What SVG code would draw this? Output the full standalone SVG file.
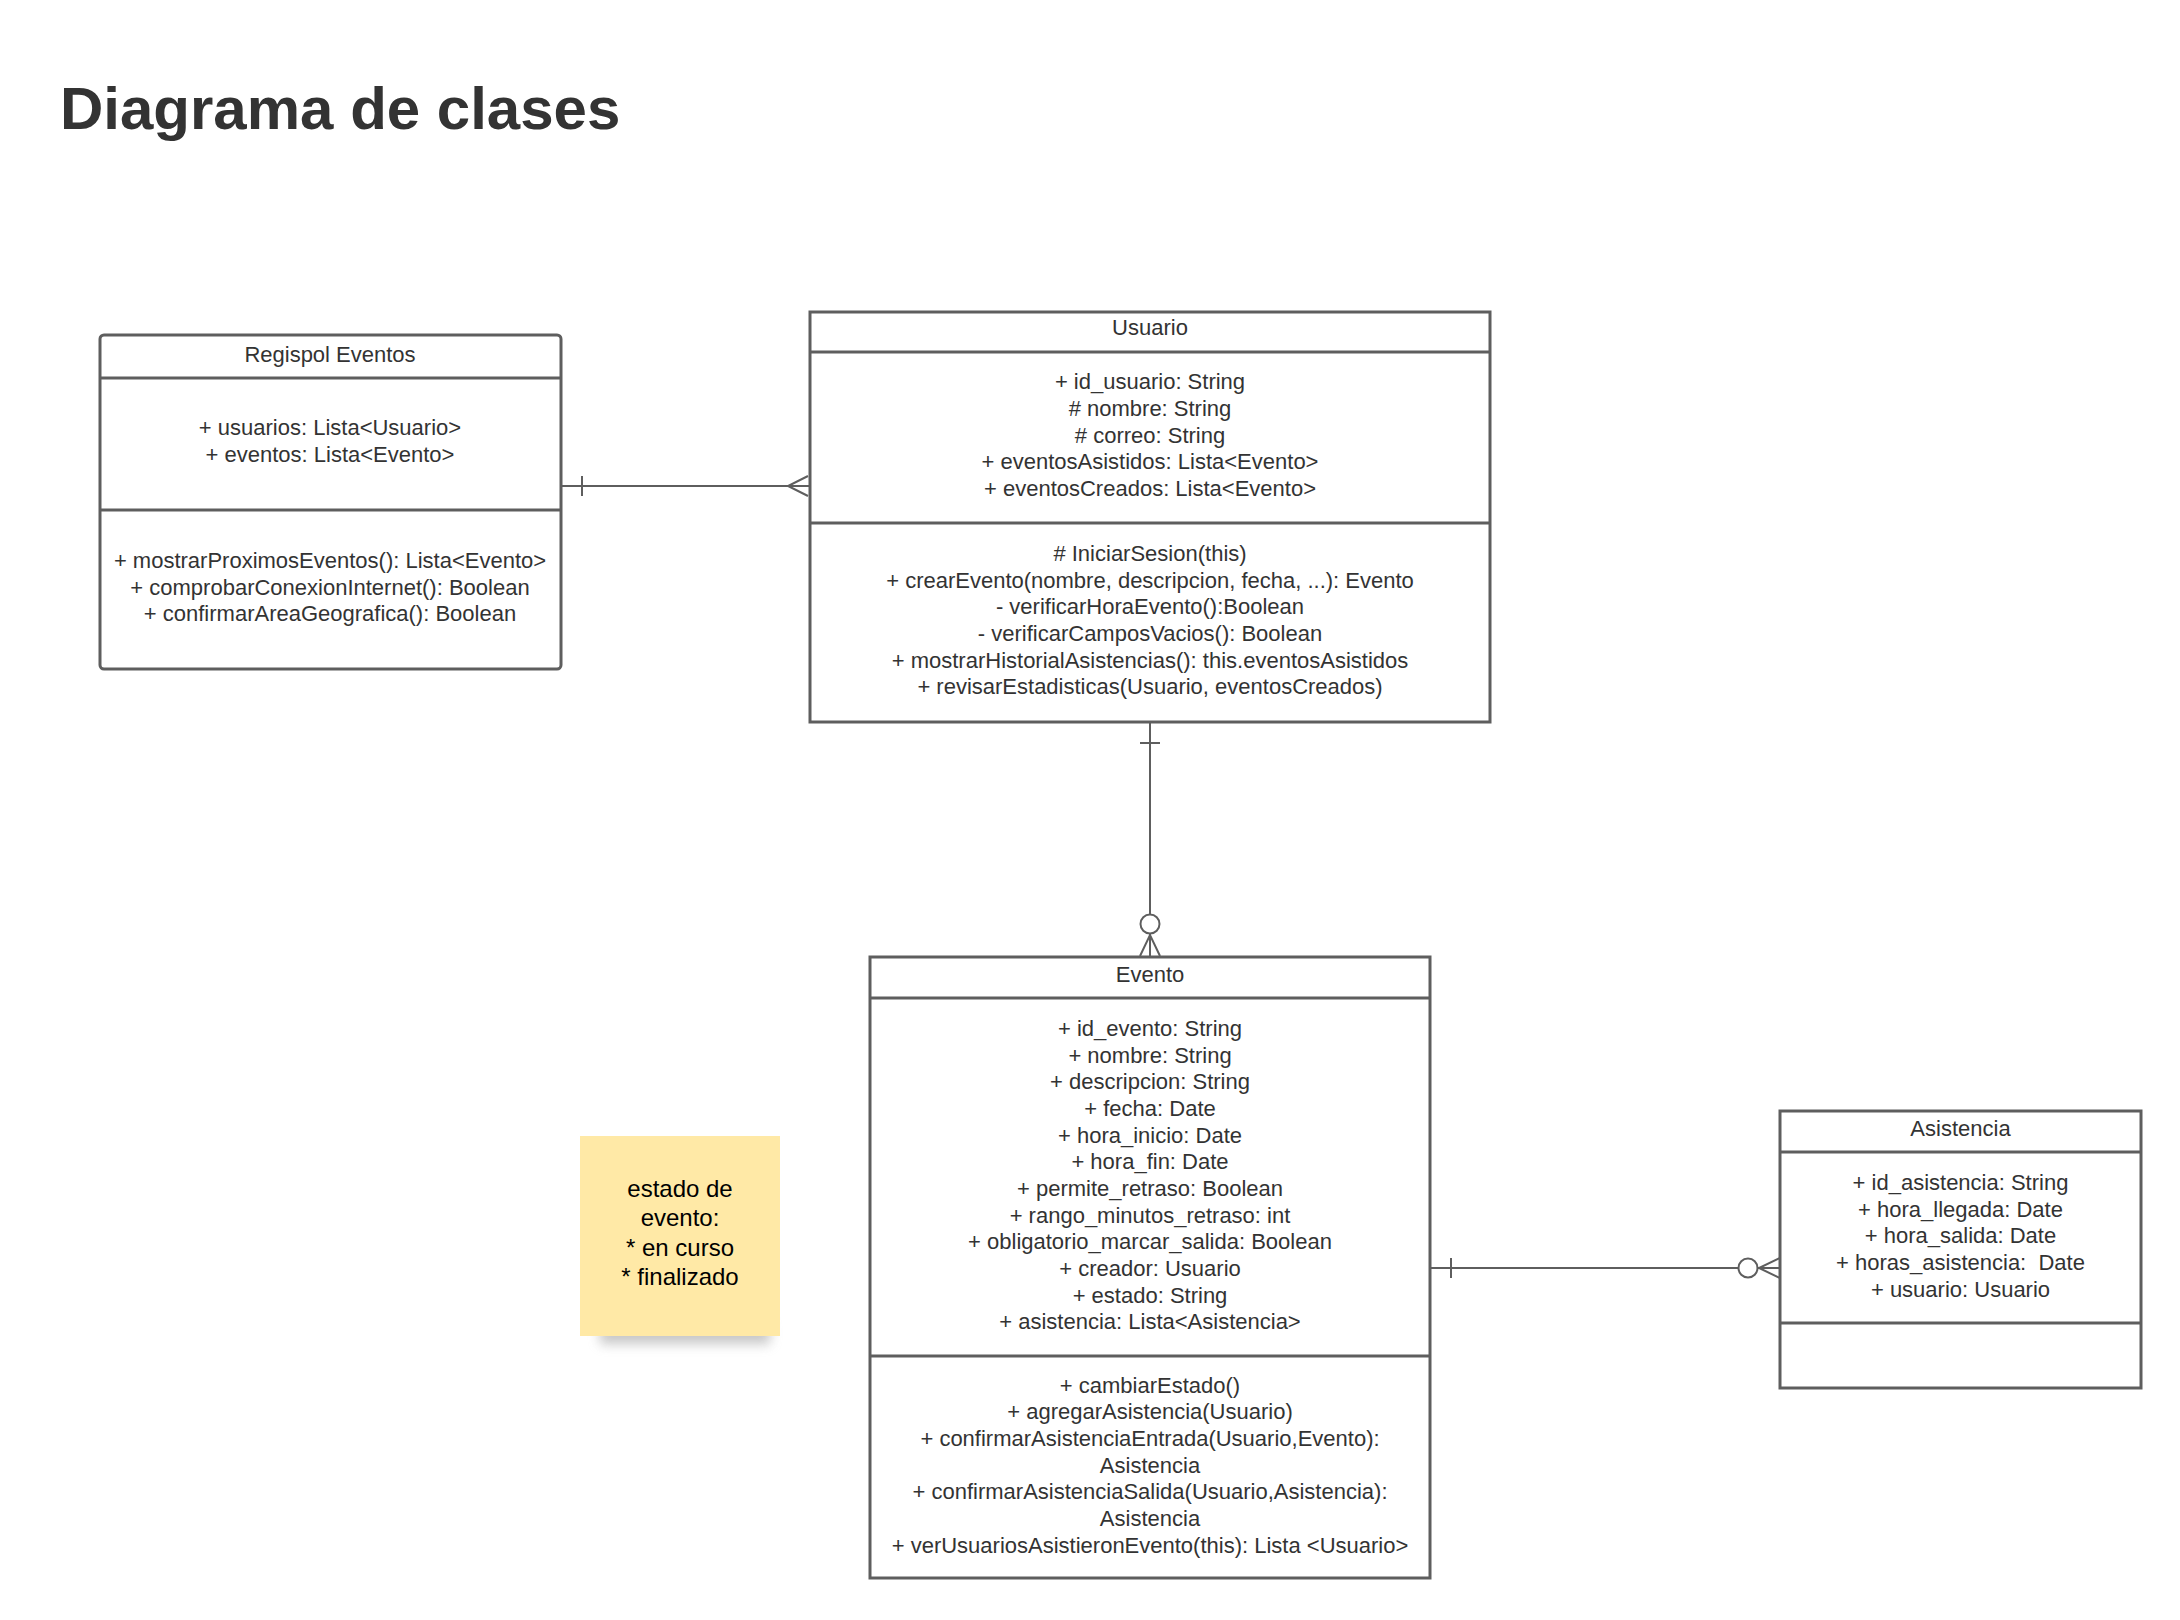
<svg xmlns="http://www.w3.org/2000/svg" width="2180" height="1620" viewBox="0 0 2180 1620">
  <defs>
    <style>
      .box { fill: #ffffff; stroke: #5e5e5e; stroke-width: 3; }
      .sep { stroke: #5e5e5e; stroke-width: 3; fill: none; }
      .t { font-family: "Liberation Sans", Arial, sans-serif; font-size: 22px; fill: #333333; text-anchor: middle; }
      .conn { stroke: #5e5e5e; stroke-width: 2; fill: none; }
      .note { font-family: "Liberation Sans", Arial, sans-serif; font-size: 24px; fill: #000000; text-anchor: middle; }
    </style>
    <filter id="shadow" x="-30%" y="-100%" width="160%" height="300%">
      <feGaussianBlur stdDeviation="6"/>
    </filter>
  </defs>
  <rect width="2180" height="1620" fill="#ffffff"/>

  <text x="60" y="129" font-family="Liberation Sans, Arial, sans-serif" font-size="60" font-weight="bold" fill="#333333">Diagrama de clases</text>

  <g id="connectors">
    <!-- Regispol - Usuario -->
    <line class="conn" x1="561" y1="486" x2="810" y2="486"/>
    <line class="conn" x1="582" y1="476" x2="582" y2="496"/>
    <polyline class="conn" points="808,476 788,486 808,496"/>
    <!-- Usuario - Evento -->
    <line class="conn" x1="1150" y1="722" x2="1150" y2="914"/>
    <line class="conn" x1="1140" y1="743" x2="1160" y2="743"/>
    <circle class="conn" cx="1150" cy="924" r="9.5"/>
    <line class="conn" x1="1150" y1="934" x2="1150" y2="956"/>
    <polyline class="conn" points="1140,956 1150,935 1160,956"/>
    <!-- Evento - Asistencia -->
    <line class="conn" x1="1430" y1="1268" x2="1738" y2="1268"/>
    <line class="conn" x1="1451" y1="1258" x2="1451" y2="1278"/>
    <circle class="conn" cx="1748" cy="1268" r="9.5"/>
    <line class="conn" x1="1758" y1="1268" x2="1780" y2="1268"/>
    <polyline class="conn" points="1780,1258 1759,1268 1780,1278"/>
  </g>

  <g id="regispol">
    <rect class="box" x="100" y="335" width="461" height="334" rx="4"/>
    <line class="sep" x1="100" y1="378" x2="561" y2="378"/>
    <line class="sep" x1="100" y1="510" x2="561" y2="510"/>
    <text class="t" x="330" y="362">Regispol Eventos</text>
    <text class="t" x="330" y="435">+ usuarios: Lista&lt;Usuario&gt;</text>
    <text class="t" x="330" y="462">+ eventos: Lista&lt;Evento&gt;</text>
    <text class="t" x="330" y="568">+ mostrarProximosEventos(): Lista&lt;Evento&gt;</text>
    <text class="t" x="330" y="595">+ comprobarConexionInternet(): Boolean</text>
    <text class="t" x="330" y="621">+ confirmarAreaGeografica(): Boolean</text>
  </g>

  <g id="usuario">
    <rect class="box" x="810" y="312" width="680" height="410"/>
    <line class="sep" x1="810" y1="352" x2="1490" y2="352"/>
    <line class="sep" x1="810" y1="523" x2="1490" y2="523"/>
    <text class="t" x="1150" y="335">Usuario</text>
    <text class="t" x="1150" y="389">+ id_usuario: String</text>
    <text class="t" x="1150" y="416"># nombre: String</text>
    <text class="t" x="1150" y="443"># correo: String</text>
    <text class="t" x="1150" y="469">+ eventosAsistidos: Lista&lt;Evento&gt;</text>
    <text class="t" x="1150" y="496">+ eventosCreados: Lista&lt;Evento&gt;</text>
    <text class="t" x="1150" y="561"># IniciarSesion(this)</text>
    <text class="t" x="1150" y="588">+ crearEvento(nombre, descripcion, fecha, ...): Evento</text>
    <text class="t" x="1150" y="614">- verificarHoraEvento():Boolean</text>
    <text class="t" x="1150" y="641">- verificarCamposVacios(): Boolean</text>
    <text class="t" x="1150" y="668">+ mostrarHistorialAsistencias(): this.eventosAsistidos</text>
    <text class="t" x="1150" y="694">+ revisarEstadisticas(Usuario, eventosCreados)</text>
  </g>

  <g id="evento">
    <rect class="box" x="870" y="957" width="560" height="621"/>
    <line class="sep" x1="870" y1="998" x2="1430" y2="998"/>
    <line class="sep" x1="870" y1="1356" x2="1430" y2="1356"/>
    <text class="t" x="1150" y="982">Evento</text>
    <text class="t" x="1150" y="1036">+ id_evento: String</text>
    <text class="t" x="1150" y="1063">+ nombre: String</text>
    <text class="t" x="1150" y="1089">+ descripcion: String</text>
    <text class="t" x="1150" y="1116">+ fecha: Date</text>
    <text class="t" x="1150" y="1143">+ hora_inicio: Date</text>
    <text class="t" x="1150" y="1169">+ hora_fin: Date</text>
    <text class="t" x="1150" y="1196">+ permite_retraso: Boolean</text>
    <text class="t" x="1150" y="1223">+ rango_minutos_retraso: int</text>
    <text class="t" x="1150" y="1249">+ obligatorio_marcar_salida: Boolean</text>
    <text class="t" x="1150" y="1276">+ creador: Usuario</text>
    <text class="t" x="1150" y="1303">+ estado: String</text>
    <text class="t" x="1150" y="1329">+ asistencia: Lista&lt;Asistencia&gt;</text>
    <text class="t" x="1150" y="1393">+ cambiarEstado()</text>
    <text class="t" x="1150" y="1419">+ agregarAsistencia(Usuario)</text>
    <text class="t" x="1150" y="1446">+ confirmarAsistenciaEntrada(Usuario,Evento):</text>
    <text class="t" x="1150" y="1473">Asistencia</text>
    <text class="t" x="1150" y="1499">+ confirmarAsistenciaSalida(Usuario,Asistencia):</text>
    <text class="t" x="1150" y="1526">Asistencia</text>
    <text class="t" x="1150" y="1553">+ verUsuariosAsistieronEvento(this): Lista &lt;Usuario&gt;</text>
  </g>

  <g id="asistencia">
    <rect class="box" x="1780" y="1111" width="361" height="277"/>
    <line class="sep" x1="1780" y1="1152" x2="2141" y2="1152"/>
    <line class="sep" x1="1780" y1="1323" x2="2141" y2="1323"/>
    <text class="t" x="1960.5" y="1136">Asistencia</text>
    <text class="t" x="1960.5" y="1190">+ id_asistencia: String</text>
    <text class="t" x="1960.5" y="1217">+ hora_llegada: Date</text>
    <text class="t" x="1960.5" y="1243">+ hora_salida: Date</text>
    <text class="t" x="1960.5" y="1270" xml:space="preserve">+ horas_asistencia:  Date</text>
    <text class="t" x="1960.5" y="1297">+ usuario: Usuario</text>
  </g>

  <g id="nota">
    <rect x="600" y="1322" width="170" height="22" fill="#9a9a9a" opacity="0.55" filter="url(#shadow)"/>
    <rect x="580" y="1136" width="200" height="200" fill="#ffe9a6"/>
    <text class="note" x="680" y="1197">estado de</text>
    <text class="note" x="680" y="1226">evento:</text>
    <text class="note" x="680" y="1256">* en curso</text>
    <text class="note" x="680" y="1285">* finalizado</text>
  </g>
</svg>
